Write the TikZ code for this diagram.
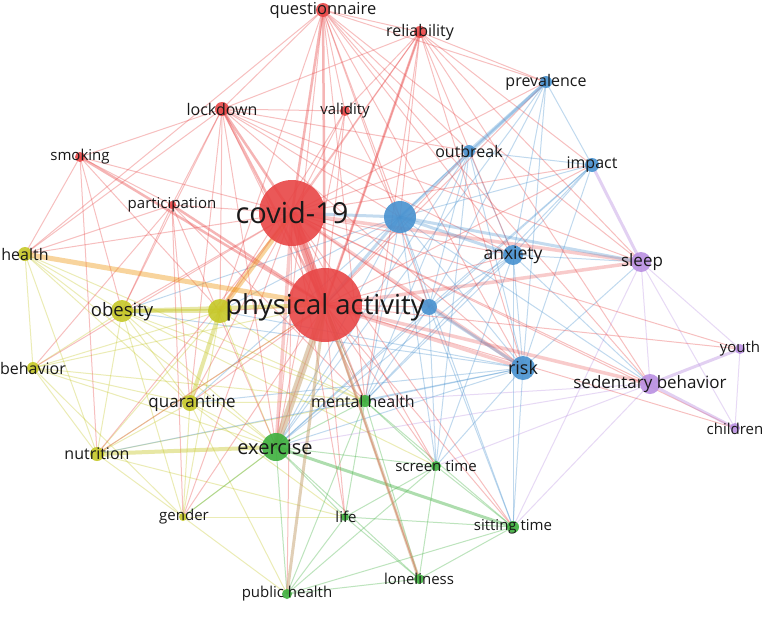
\documentclass[tikz,border=0pt]{standalone}
\usepackage{fontspec}
\setmainfont{Open Sans}
\definecolor{cr}{RGB}{232,70,70}
\definecolor{cb}{RGB}{72,146,208}
\definecolor{cg}{RGB}{62,176,62}
\definecolor{cy}{RGB}{198,200,40}
\definecolor{cp}{RGB}{186,144,226}
\definecolor{ct}{RGB}{196,160,110}
\definecolor{txt}{RGB}{25,25,25}
\newcommand\kfs[1]{\fontsize{#1}{#1}\selectfont}
\newcommand\edgeset[2]{\foreach \a/\b in {#2} \draw[#1] (\a) -- (\b);}
\tikzset{
  e/.style={line width=1pt, draw opacity=0.34},
  er/.style={e, draw=cr}, eb/.style={e, draw=cb}, eg/.style={e, draw=cg},
  ey/.style={e, draw=cy}, ep/.style={e, draw=cp},
  bubble/.style={circle, inner sep=0pt, draw=none, fill opacity=0.9},
  lbl/.style={inner sep=0pt, text=txt}
}
\begin{document}
\begin{tikzpicture}[x=1pt,y=-1pt]
\useasboundingbox (0,0) rectangle (765,618);
\fill[white] (0,0) rectangle (765,618);
% positions
\coordinate (q) at (323,10);
\coordinate (rel) at (420,32);
\coordinate (lock) at (222,109);
\coordinate (val) at (345,111);
\coordinate (smok) at (80,157);
\coordinate (part) at (172,205);
\coordinate (cov) at (292,213);
\coordinate (hea) at (25,254);
\coordinate (obe) at (122,311);
\coordinate (ypa) at (220,311);
\coordinate (pa) at (325,305);
\coordinate (bl) at (400,217);
\coordinate (prev) at (546,82);
\coordinate (outb) at (469,151);
\coordinate (imp) at (592,165);
\coordinate (anx) at (513,255);
\coordinate (slp) at (641,262);
\coordinate (bpa) at (429,307);
\coordinate (risk) at (523,368);
\coordinate (youth) at (740,349);
\coordinate (sed) at (650,384);
\coordinate (chil) at (735,428);
\coordinate (beh) at (33,368);
\coordinate (quar) at (190,403);
\coordinate (mh) at (365,401);
\coordinate (nut) at (97,454);
\coordinate (ex) at (276,447);
\coordinate (scr) at (436,466);
\coordinate (gen) at (183,517);
\coordinate (life) at (345,517);
\coordinate (sit) at (513,527);
\coordinate (ph) at (287,594);
\coordinate (lone) at (419,579);
% thin edges
\edgeset{ey}{hea/obe, hea/beh, hea/quar, hea/nut, hea/ex, hea/mh, obe/beh, obe/quar, obe/nut, obe/ex, obe/gen, obe/mh, obe/scr, ypa/nut, ypa/ex, ypa/gen, ypa/beh, ypa/mh, beh/quar, beh/nut, beh/ex, beh/gen, beh/pa, beh/mh, quar/nut, quar/ex, quar/gen, quar/mh, quar/ph, quar/life, nut/gen, nut/pa, nut/mh, nut/life, gen/ex, gen/ph, gen/life}
\edgeset{eg}{ex/mh, ex/scr, ex/life, ex/ph, ex/lone, ex/gen, mh/scr, mh/life, mh/sit, mh/lone, mh/ph, scr/sit, scr/lone, scr/life, scr/ph, life/sit, life/ph, life/lone, sit/lone, sit/ph, lone/ph, mh/pa}
\edgeset{ep}{slp/sed, slp/youth, slp/chil, sed/sit, sed/ex, sed/mh, sed/scr, youth/chil, slp/sit}
\edgeset{eb}{bl/outb, bl/imp, bl/risk, bl/sed, bl/bpa, bl/mh, bl/ex, bl/scr, bl/sit, bl/obe, bl/ypa, bl/quar, prev/imp, prev/anx, prev/risk, prev/bpa, prev/ex, outb/imp, outb/anx, outb/risk, outb/bpa, outb/mh, outb/ex, outb/scr, imp/anx, imp/risk, imp/bpa, imp/ex, imp/mh, anx/slp, anx/risk, anx/sed, anx/bpa, anx/mh, anx/ex, anx/scr, anx/sit, risk/slp, risk/sit, risk/mh, risk/ex, risk/scr, risk/ypa, risk/obe, risk/quar, risk/nut, bpa/mh, bpa/ex, bpa/scr, bpa/sit}
\edgeset{er}{q/lock, q/hea, q/rel, q/val, q/bl, q/anx, q/outb, q/risk, q/slp, q/sed, q/ex, q/mh, q/ypa, q/prev, q/bpa, rel/cov, rel/bl, rel/prev, rel/anx, rel/risk, rel/sed, rel/imp, rel/slp, rel/lock, rel/ex, rel/ypa, rel/val, rel/mh, lock/smok, lock/val, lock/part, lock/ex, lock/anx, lock/bl, lock/risk, lock/slp, lock/quar, lock/obe, lock/mh, lock/ypa, lock/outb, lock/hea, val/cov, val/pa, val/ex, val/bl, val/ypa, smok/cov, smok/part, smok/hea, smok/obe, smok/nut, smok/ypa, part/cov, part/ex, part/quar, part/obe, part/beh, part/mh, part/gen, part/hea, cov/anx, cov/sed, cov/outb, cov/imp, cov/prev, cov/mh, cov/quar, cov/obe, cov/hea, cov/nut, cov/scr, cov/sit, cov/lone, cov/life, cov/ph, cov/gen, cov/bpa, cov/chil, cov/youth, cov/beh, pa/anx, pa/chil, pa/youth, pa/outb, pa/imp, pa/prev, pa/mh, pa/scr, pa/sit, pa/lone, pa/life, pa/gen, pa/quar, pa/nut, pa/ypa, pa/bpa}
% thick edges
\edgeset{er, line width=2.5pt, draw opacity=0.4}{q/cov, q/pa, rel/pa, lock/cov, lock/pa, smok/pa, part/pa}
\edgeset{er, line width=3.5pt, draw opacity=0.28}{cov/ex, cov/slp, pa/slp, pa/sed, pa/risk, cov/risk}
\edgeset{eb, line width=3pt, draw opacity=0.32}{bl/prev, bl/anx, bl/slp, bpa/risk, cov/bl, pa/bl, prev/outb}
\edgeset{ep, line width=3pt, draw opacity=0.42}{sed/youth, sed/chil, imp/slp}
\edgeset{ey, line width=4pt, draw opacity=0.42}{obe/ypa, ypa/quar, obe/pa, nut/ex}
\edgeset{ey, draw=orange!70!cy, line width=5pt, draw opacity=0.4}{cov/ypa, hea/pa}
\edgeset{eg, line width=3pt, draw opacity=0.42}{ex/sit}
\edgeset{e, draw=ct, line width=7pt, draw opacity=0.5}{ex/pa}
\edgeset{e, draw=ct, line width=3pt, draw opacity=0.5}{ph/pa, lone/pa}
\draw[er, line width=9pt, draw opacity=0.5] (cov) -- (pa);
% bubbles
\foreach \n/\r/\c in {q/7/cr, rel/6/cr, lock/7/cr, val/5/cr, smok/5/cr, part/4/cr, cov/33/cr, pa/37/cr,
  hea/7/cy, obe/11/cy, ypa/12/cy, beh/6/cy, quar/8/cy, nut/7/cy, gen/4/cy,
  bl/16/cb, prev/6/cb, outb/6/cb, imp/7/cb, anx/10/cb, bpa/8/cb, risk/12/cb,
  slp/10/cp, youth/5/cp, sed/10/cp, chil/5/cp,
  mh/6/cg, ex/14/cg, scr/5/cg, life/4/cg, sit/6/cg, ph/5/cg, lone/5/cg}
  \node[bubble, fill=\c, minimum size=2*\r pt] (\n-b) at (\n) {};
% labels
\node[lbl, font=\kfs{16.5}] (q-l) at (323,10) {questionnaire};
\node[lbl, font=\kfs{16}] (rel-l) at (420,32) {reliability};
\node[lbl, font=\kfs{16}] (lock-l) at (222,109) {lockdown};
\node[lbl, font=\kfs{15}] (val-l) at (345,111) {validity};
\node[lbl, font=\kfs{15}] (smok-l) at (80,157) {smoking};
\node[lbl, font=\kfs{15}] (part-l) at (172,205) {participation};
\node[lbl, font=\kfs{29}] (cov-l) at (292,213) {covid-19};
\node[lbl, font=\kfs{16}] (hea-l) at (25,254) {health};
\node[lbl, font=\kfs{18.5}] (obe-l) at (122,312) {obesity};
\node[lbl, font=\kfs{27.5}] (pa-l) at (325,307) {physical activity};
\node[lbl, font=\kfs{16}] (prev-l) at (546,82) {prevalence};
\node[lbl, font=\kfs{16}] (outb-l) at (469,151) {outbreak};
\node[lbl, font=\kfs{16}] (imp-l) at (592,165) {impact};
\node[lbl, font=\kfs{17.5}] (anx-l) at (513,255) {anxiety};
\node[lbl, font=\kfs{17}] (slp-l) at (642,262) {sleep};
\node[lbl, font=\kfs{18}] (risk-l) at (523,368) {risk};
\node[lbl, font=\kfs{15}] (youth-l) at (740,349) {youth};
\node[lbl, font=\kfs{17}] (sed-l) at (650,384) {sedentary behavior};
\node[lbl, font=\kfs{15}] (chil-l) at (735,429) {children};
\node[lbl, font=\kfs{16}] (beh-l) at (33,368) {behavior};
\node[lbl, font=\kfs{17}] (quar-l) at (192,403) {quarantine};
\node[lbl, font=\kfs{16}] (mh-l) at (363,401) {mental health};
\node[lbl, font=\kfs{16}] (nut-l) at (97,454) {nutrition};
\node[lbl, font=\kfs{20}] (ex-l) at (275,447) {exercise};
\node[lbl, font=\kfs{15}] (scr-l) at (436,466) {screen time};
\node[lbl, font=\kfs{15}] (gen-l) at (184,517) {gender};
\node[lbl, font=\kfs{15}] (life-l) at (346,517) {life};
\node[lbl, font=\kfs{15}] (sit-l) at (513,527) {sitting time};
\node[lbl, font=\kfs{15}] (ph-l) at (287,594) {public health};
\node[lbl, font=\kfs{15}] (lone-l) at (419,579) {loneliness};
\end{tikzpicture}
\end{document}
